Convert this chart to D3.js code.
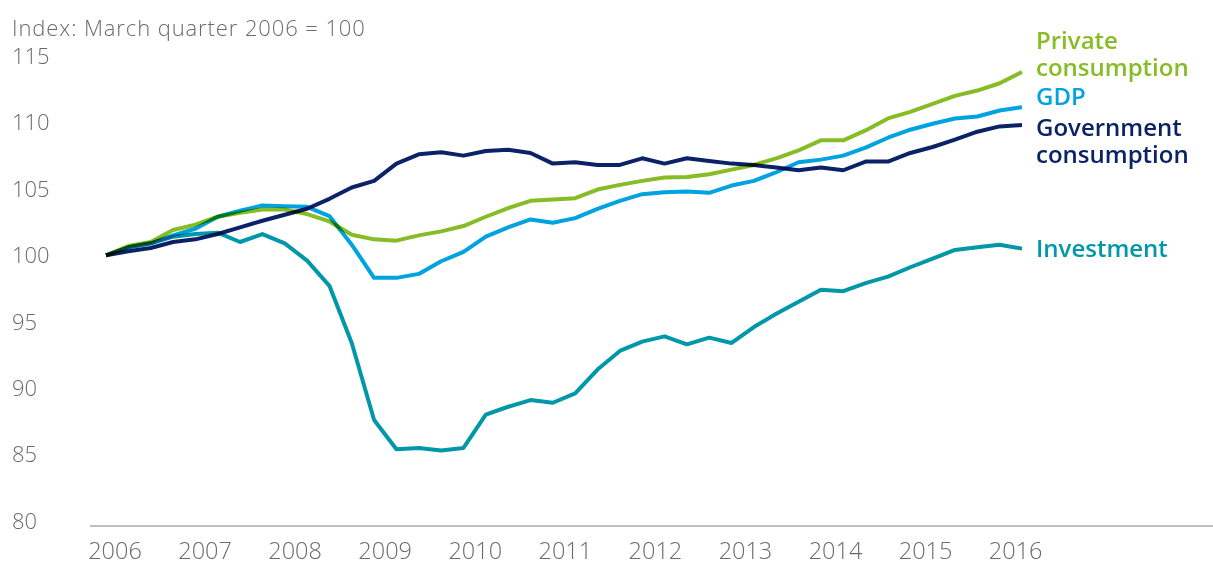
<!DOCTYPE html>
<html>
<head>
<meta charset="utf-8">
<script src="https://cdn.jsdelivr.net/npm/d3@7"></script>
<style>
  body { margin: 0; background: #fff; }
  svg { display: block; font-family: "Open Sans", sans-serif; }
  .series path { mix-blend-mode: multiply; }
</style>
</head>
<body>
<div id="graph"></div>
<script>
// quarterly, March 2006 to June 2016
const years = [2006, 2007, 2008, 2009, 2010, 2011, 2012, 2013, 2014, 2015, 2016];
const yTicks = [80, 85, 90, 95, 100, 105, 110, 115];

const investment = [100.0, 100.6, 100.9, 101.4, 101.6, 101.7, 101.0, 101.6, 100.9, 99.6,
  97.7, 93.4, 87.6, 85.4, 85.5, 85.3, 85.5, 88.0, 88.6, 89.1,
  88.9, 89.6, 91.4, 92.8, 93.5, 93.9, 93.3, 93.8, 93.4, 94.6,
  95.6, 96.5, 97.4, 97.3, 97.9, 98.4, 99.1, 99.75, 100.4, 100.6,
  100.8, 100.5];
const gdp = [100.0, 100.6, 100.9, 101.5, 102.0, 102.9, 103.35, 103.75, 103.7, 103.65,
  102.95, 100.8, 98.3, 98.3, 98.6, 99.55, 100.25, 101.4, 102.1, 102.7,
  102.45, 102.8, 103.5, 104.1, 104.6, 104.75, 104.8, 104.7, 105.25, 105.6,
  106.25, 107.0, 107.2, 107.5, 108.1, 108.85, 109.45, 109.9, 110.3, 110.45,
  110.9, 111.15];
const privateCons = [100.0, 100.7, 101.0, 101.9, 102.3, 102.9, 103.2, 103.45, 103.45, 103.1,
  102.55, 101.55, 101.2, 101.1, 101.5, 101.8, 102.2, 102.9, 103.55, 104.1,
  104.2, 104.3, 104.95, 105.3, 105.6, 105.85, 105.9, 106.1, 106.45, 106.8,
  107.3, 107.9, 108.65, 108.65, 109.4, 110.3, 110.8, 111.4, 112.0, 112.4,
  112.95, 113.8];
const govCons = [100.0, 100.3, 100.55, 101.0, 101.2, 101.6, 102.1, 102.6, 103.05, 103.5,
  104.25, 105.1, 105.6, 106.9, 107.6, 107.75, 107.5, 107.85, 107.95, 107.7,
  106.9, 107.0, 106.8, 106.8, 107.3, 106.9, 107.3, 107.1, 106.9, 106.8,
  106.6, 106.4, 106.6, 106.4, 107.05, 107.05, 107.7, 108.15, 108.7, 109.3,
  109.7, 109.8];

const series = [
  {name: ["Investment"], values: investment, color: "#0097a9", labelY: 257},
  {name: ["GDP"], values: gdp, color: "#00a3e0", labelY: 105},
  {name: ["Private", "consumption"], values: privateCons, color: "#86bc25", labelY: 49},
  {name: ["Government", "consumption"], values: govCons, color: "#0c2266", labelY: 136}
];

const width = 1213, height = 563;

const svg = d3.select('#graph')
  .append('svg')
  .attr('width', width)
  .attr('height', height);

const x = d3.scaleLinear()
  .domain([0, investment.length - 1])
  .range([106, 1022]);

const y = d3.scaleLinear()
  .domain([80, 115])
  .range([521, 56]);

// title
svg.append('text')
  .attr('x', 12)
  .attr('y', 36)
  .attr('fill', '#6b6b6b')
  .attr('font-weight', 300)
  .attr('font-size', 22)
  .attr('letter-spacing', 0.9)
  .text('Index: March quarter 2006 = 100');

// y labels
svg.append('g')
  .selectAll('text')
  .data(yTicks)
  .join('text')
  .attr('x', 12)
  .attr('y', d => y(d))
  .attr('dy', '0.36em')
  .attr('fill', '#6b6b6b')
  .attr('font-weight', 300)
  .attr('font-size', 22)
  .text(d => d);

// x axis
svg.append('line')
  .attr('x1', 90)
  .attr('x2', width)
  .attr('y1', 526)
  .attr('y2', 526)
  .attr('stroke', '#bfbfbf')
  .attr('stroke-width', 2);

svg.append('g')
  .selectAll('text')
  .data(years)
  .join('text')
  .attr('x', (d, i) => x(i * 4) + 9 + i * 0.7)
  .attr('y', 559)
  .attr('text-anchor', 'middle')
  .attr('fill', '#6b6b6b')
  .attr('font-weight', 300)
  .attr('font-size', 23.5)
  .text(d => d);

const line = d3.line()
  .x((d, i) => x(i))
  .y(d => y(d));

svg.append('g')
  .attr('class', 'series')
  .selectAll('path')
  .data(series)
  .join('path')
  .attr('fill', 'none')
  .attr('stroke', d => d.color)
  .attr('stroke-width', 4)
  .attr('stroke-linejoin', 'round')
  .attr('d', d => line(d.values));

// end labels
const labels = svg.append('g')
  .selectAll('text')
  .data(series)
  .join('text')
  .attr('x', 1036)
  .attr('y', d => d.labelY)
  .attr('fill', d => d.color)
  .attr('font-weight', 600)
  .attr('font-size', 24);

labels.selectAll('tspan')
  .data(d => d.name)
  .join('tspan')
  .attr('x', 1036)
  .attr('dy', (d, i) => i ? 26.5 : 0)
  .text(d => d);
</script>
</body>
</html>
